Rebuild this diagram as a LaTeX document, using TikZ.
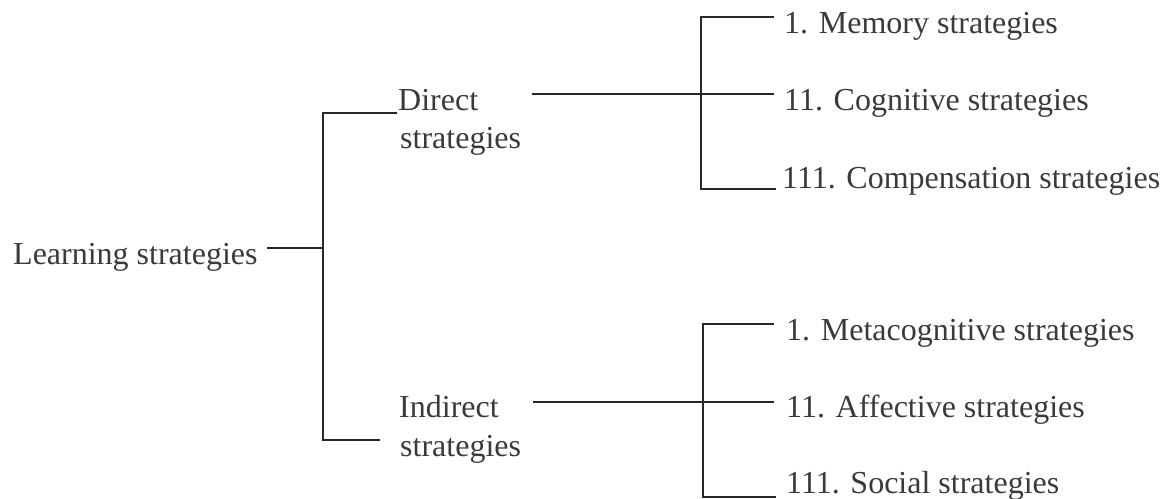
\documentclass[tikz,border=0pt]{standalone}
\usepackage{fontspec}
\setmainfont{Liberation Serif}
\definecolor{ink}{RGB}{58,58,58}
\definecolor{ink2}{RGB}{40,40,40}
\begin{document}
\begin{tikzpicture}[x=1pt,y=-1pt,
  txt/.style={anchor=base west,inner sep=0pt,text=ink,font=\fontsize{32}{38}\selectfont},
  conn/.style={draw=ink2,line width=1.5pt}]
\useasboundingbox (0,0) rectangle (1172,498);
% texts
\node[txt] (ls) at (13,264) {Learning strategies};
\node[txt] (d1) at (398,110) {Direct};
\node[txt] (d2) at (400,148) {strategies};
\node[txt] (i1) at (399,417) {Indirect};
\node[txt] (i2) at (400,456) {strategies};
\node[txt] (m) at (784,33) {1. Memory strategies};
\node[txt] (c) at (784,110) {11. Cognitive strategies};
\node[txt] (p) at (782,188) {111. Compensation strategies};
\node[txt] (mc) at (786,340) {1. Metacognitive strategies};
\node[txt] (af) at (786,417) {11. Affective strategies};
\node[txt] (so) at (786,493) {111. Social strategies};
% junction coordinates
\coordinate (lsr) at (267,248);
\coordinate (j) at (323,248);
\coordinate (jt) at (323,113);
\coordinate (jb) at (323,440);
\coordinate (dt) at (397,113);
\coordinate (ib) at (380,440);
\coordinate (ds) at (532,94);
\coordinate (dv) at (701,94);
\coordinate (dvt) at (701,17);
\coordinate (dvb) at (701,189);
\coordinate (me) at (774,17);
\coordinate (ce) at (774,94);
\coordinate (pe) at (776,189);
\coordinate (is) at (533,402);
\coordinate (iv) at (703,402);
\coordinate (ivt) at (703,324);
\coordinate (ivb) at (703,497);
\coordinate (mce) at (774,324);
\coordinate (afe) at (774,402);
\coordinate (soe) at (776,497);
% connectors
\draw[conn] (lsr) -- (j);
\draw[conn] (dt) -- (jt) -- (jb) -- (ib);
\draw[conn] (ds) -- (ce);
\draw[conn] (me) -- (dvt) -- (dvb) -- (pe);
\draw[conn] (is) -- (afe);
\draw[conn] (mce) -- (ivt) -- (ivb) -- (soe);
\end{tikzpicture}
\end{document}
